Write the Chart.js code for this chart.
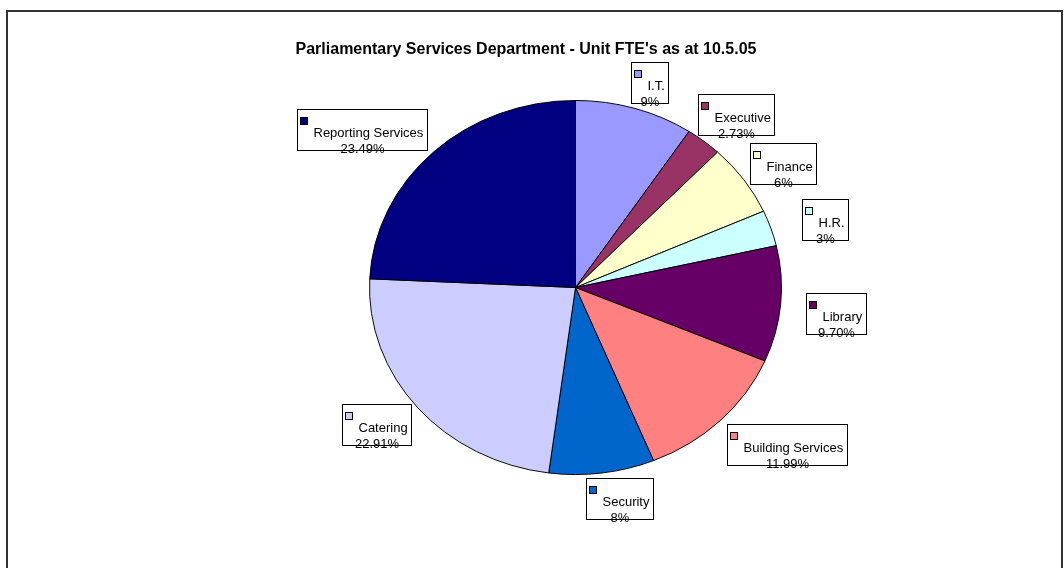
<!DOCTYPE html>
<html>
<head>
<meta charset="utf-8">
<script src="https://cdn.jsdelivr.net/npm/chart.js@4.4.1/dist/chart.umd.min.js"></script>
<style>
  html, body { margin: 0; padding: 0; background: #fff; overflow: hidden; }
  canvas { display: block; }
</style>
</head>
<body>
<canvas id="personalDiagramm" width="1064" height="568"></canvas>
<script>
// Daten
const titel = "Parliamentary Services Department - Unit FTE's as at 10.5.05";
const bereiche = ['I.T.', 'Executive', 'Finance', 'H.R.', 'Library', 'Building Services', 'Security', 'Catering', 'Reporting Services'];
const anteile = [9, 2.73, 6, 3, 9.70, 11.99, 8, 22.91, 23.49];
const anteilTexte = ['9%', '2.73%', '6%', '3%', '9.70%', '11.99%', '8%', '22.91%', '23.49%'];

const farben = ['#9999FF', '#993366', '#FFFFCC', '#CCFFFF', '#660066', '#FF8080', '#0066CC', '#CCCCFF', '#000080'];
const schrift = 'Arial, "Liberation Sans", sans-serif';

// Kreis etwas gestaucht wie im Original (Ellipse)
const ellipsenPlugin = {
  id: 'ellipse',
  beforeDatasetsDraw(chart, args, opts) {
    const bogen = chart.getDatasetMeta(0).data[0];
    const ctx = chart.ctx;
    ctx.save();
    ctx.translate(bogen.x, bogen.y);
    ctx.scale(1, opts.stauchung);
    ctx.translate(-bogen.x, -bogen.y);
  },
  afterDatasetsDraw(chart) {
    chart.ctx.restore();
  }
};

// Rahmen, Titel und Beschriftungskaesten
const beschriftungPlugin = {
  id: 'beschriftung',
  beforeDraw(chart, args, opts) {
    const ctx = chart.ctx;
    ctx.save();
    ctx.strokeStyle = '#333';
    ctx.lineWidth = 2;
    ctx.strokeRect(7, 11, 1055, 600);
    ctx.restore();
  },
  afterDraw(chart, args, opts) {
    const ctx = chart.ctx;
    ctx.save();
    ctx.fillStyle = '#000';
    ctx.font = 'bold 16px ' + schrift;
    ctx.textAlign = 'center';
    ctx.textBaseline = 'alphabetic';
    ctx.fillText(titel, opts.titelX, opts.titelY);

    const meta = chart.getDatasetMeta(0);
    ctx.font = '13px ' + schrift;
    meta.data.forEach((bogen, i) => {
      const mitte = (bogen.startAngle + bogen.endAngle) / 2;
      const ex = bogen.x + bogen.outerRadius * Math.cos(mitte);
      const ey = bogen.y + bogen.outerRadius * opts.stauchung * Math.sin(mitte);
      const d = Math.hypot(ex - bogen.x, ey - bogen.y);
      const ux = (ex - bogen.x) / d;
      const uy = (ey - bogen.y) / d;
      const m = Math.max(Math.abs(ux), Math.abs(uy));
      const name = chart.data.labels[i];
      const w = Math.round(16 + ctx.measureText(name).width + 4);
      const h = 41;
      const [nx, ny] = opts.verschiebung[i];
      const mx = ex + ux * opts.abstand + (ux / m) * w / 2 + nx;
      const my = ey + uy * opts.abstand + (uy / m) * h / 2 + ny;
      const L = Math.round(mx - w / 2) + 0.5;
      const T = Math.round(my - h / 2) + 0.5;

      ctx.fillStyle = '#fff';
      ctx.fillRect(L, T, w, h);
      ctx.strokeStyle = '#000';
      ctx.lineWidth = 1;
      ctx.strokeRect(L, T, w, h);

      ctx.fillStyle = farben[i];
      ctx.fillRect(L + 3, T + 8, 7, 7);
      ctx.strokeRect(L + 3, T + 8, 7, 7);

      ctx.fillStyle = '#000';
      ctx.textAlign = 'left';
      ctx.fillText(name, L + 16, T + 27);
      ctx.textAlign = 'center';
      ctx.fillText(anteilTexte[i], L + w / 2, T + 43);
    });
    ctx.restore();
  }
};

const zeichenflaeche = document.getElementById('personalDiagramm').getContext('2d');
const personalDiagramm = new Chart(zeichenflaeche, {
  type: 'pie',
  data: {
    labels: bereiche,
    datasets: [{
      data: anteile,
      backgroundColor: farben,
      borderColor: '#000',
      borderWidth: 1
    }]
  },
  options: {
    responsive: false,
    animation: false,
    layout: { padding: { left: 369, right: 282, top: 81, bottom: 74 } },
    plugins: {
      legend: { display: false },
      tooltip: { enabled: false },
      ellipse: { stauchung: 0.908 },
      beschriftung: {
        stauchung: 0.908,
        titelX: 526,
        titelY: 54,
        abstand: 4,
        verschiebung: [[7, -2], [-4, -3], [3, -1], [27, -1], [21, 7], [4, 2], [12, 1], [-3, -1], [-3, 0]]
      }
    }
  },
  plugins: [ellipsenPlugin, beschriftungPlugin]
});
</script>
</body>
</html>
